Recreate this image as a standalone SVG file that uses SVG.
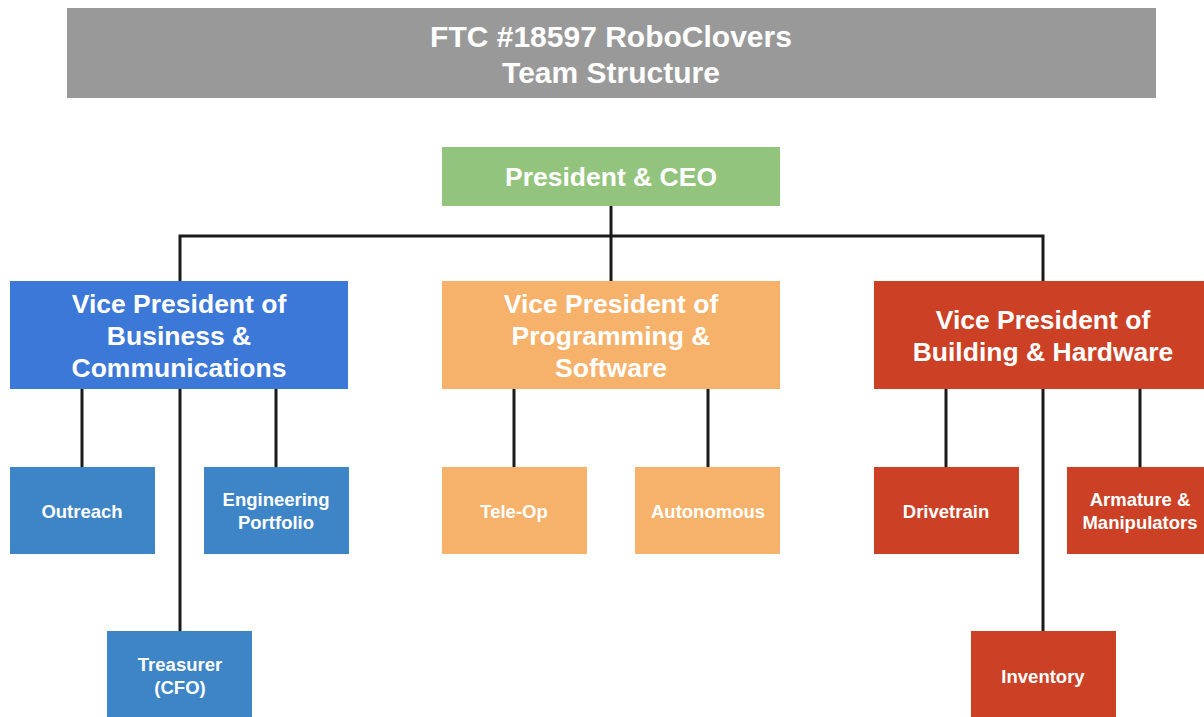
<svg xmlns="http://www.w3.org/2000/svg" width="1204" height="717" viewBox="0 0 1204 717">
  <style>
    text { font-family: "Liberation Sans", Arial, sans-serif; font-weight: bold; fill: #ffffff; text-anchor: middle; dominant-baseline: central; }
    .title { font-size: 30px; }
    .top { font-size: 26.5px; }
    .vp { font-size: 26.5px; }
    .sub { font-size: 18.5px; }
    .conn { stroke: #1a1a1a; stroke-width: 3; fill: none; }
    .gray { fill: #999999; }
    .green { fill: #93c47d; }
    .blue { fill: #3c78d8; }
    .blue2 { fill: #3d85c6; }
    .orange { fill: #f6b26b; }
    .red { fill: #cc4125; }
  </style>
  <rect width="1204" height="717" fill="#ffffff"/>

  <!-- connectors -->
  <g id="connectors" class="conn">
    <path d="M611 206 V281"/>
    <path d="M180 281 V236 H1043 V281"/>
    <path d="M82 389 V467 M180 389 V631 M276 389 V467"/>
    <path d="M514 389 V467 M708 389 V467"/>
    <path d="M946 389 V467 M1043 389 V631 M1140 389 V467"/>
  </g>

  <g id="title">
    <rect class="gray" x="67" y="8" width="1089" height="90"/>
    <text class="title" x="611" y="36">FTC #18597 RoboClovers</text>
    <text class="title" x="611" y="72">Team Structure</text>
  </g>

  <g id="president">
    <rect class="green" x="442" y="147" width="338" height="59"/>
    <text class="top" x="611" y="177">President &amp; CEO</text>
  </g>

  <g id="vp-business">
    <rect class="blue" x="10" y="281" width="338" height="108"/>
    <text class="vp" x="179" y="304">Vice President of</text>
    <text class="vp" x="179" y="336">Business &amp;</text>
    <text class="vp" x="179" y="368">Communications</text>
  </g>

  <g id="vp-programming">
    <rect class="orange" x="442" y="281" width="338" height="108"/>
    <text class="vp" x="611" y="304">Vice President of</text>
    <text class="vp" x="611" y="336">Programming &amp;</text>
    <text class="vp" x="611" y="368">Software</text>
  </g>

  <g id="vp-building">
    <rect class="red" x="874" y="281" width="338" height="108"/>
    <text class="vp" x="1043" y="320">Vice President of</text>
    <text class="vp" x="1043" y="352">Building &amp; Hardware</text>
  </g>

  <g id="outreach">
    <rect class="blue2" x="10" y="467" width="145" height="87"/>
    <text class="sub" x="82" y="511">Outreach</text>
  </g>

  <g id="engineering-portfolio">
    <rect class="blue2" x="204" y="467" width="145" height="87"/>
    <text class="sub" x="276" y="499">Engineering</text>
    <text class="sub" x="276" y="522">Portfolio</text>
  </g>

  <g id="treasurer">
    <rect class="blue2" x="107" y="631" width="145" height="90"/>
    <text class="sub" x="180" y="664">Treasurer</text>
    <text class="sub" x="180" y="687">(CFO)</text>
  </g>

  <g id="tele-op">
    <rect class="orange" x="442" y="467" width="145" height="87"/>
    <text class="sub" x="514" y="511">Tele-Op</text>
  </g>

  <g id="autonomous">
    <rect class="orange" x="635" y="467" width="145" height="87"/>
    <text class="sub" x="708" y="511">Autonomous</text>
  </g>

  <g id="drivetrain">
    <rect class="red" x="874" y="467" width="145" height="87"/>
    <text class="sub" x="946" y="511">Drivetrain</text>
  </g>

  <g id="armature">
    <rect class="red" x="1067" y="467" width="145" height="87"/>
    <text class="sub" x="1140" y="499">Armature &amp;</text>
    <text class="sub" x="1140" y="522">Manipulators</text>
  </g>

  <g id="inventory">
    <rect class="red" x="971" y="631" width="145" height="90"/>
    <text class="sub" x="1043" y="676">Inventory</text>
  </g>
</svg>
